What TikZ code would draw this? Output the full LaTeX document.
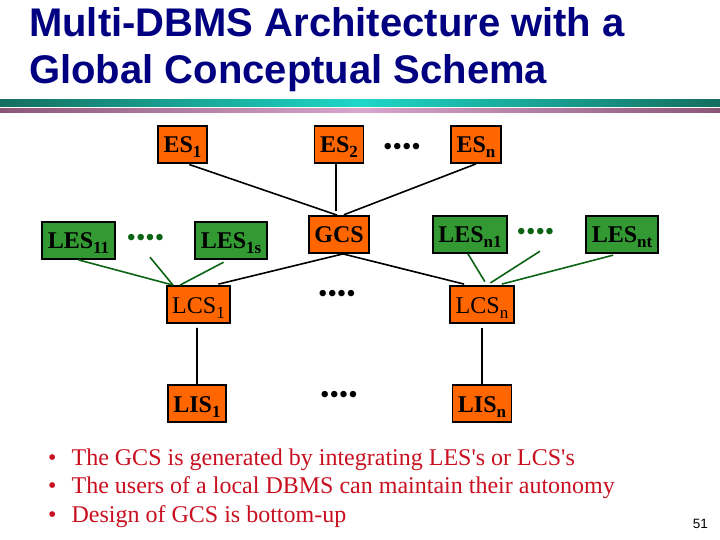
\documentclass[tikz,border=0pt]{standalone}
\usepackage{fontspec}
\setmainfont{Liberation Serif}
\newfontfamily\headfont{Liberation Sans}
\usetikzlibrary{calc}

\definecolor{schemaorange}{RGB}{255,102,0}
\definecolor{localgreen}{RGB}{51,153,51}
\definecolor{linkgreen}{RGB}{10,100,20}
\definecolor{titleblue}{RGB}{0,0,128}
\definecolor{notered}{RGB}{200,16,32}
\definecolor{tealdark}{RGB}{20,110,95}
\definecolor{teallight}{RGB}{30,215,200}
\definecolor{mauvedark}{RGB}{140,85,120}
\definecolor{mauvelight}{RGB}{215,165,205}

% lowered index of a schema name
\newcommand{\lowsub}[1]{\raisebox{-5bp}{\fontsize{17bp}{17bp}\selectfont #1}}

\begin{document}
\begin{tikzpicture}[x=1bp,y=-1bp,
	schema/.style={draw,line width=1.8bp,fill=schemaorange,minimum height=37bp,inner xsep=5.5bp,text height=20bp,text depth=3bp,font=\fontsize{24bp}{24bp}\selectfont\bfseries},
	local/.style={schema,fill=localgreen},
	concept/.style={schema,font=\fontsize{24bp}{24bp}\selectfont},
	more/.style={inner sep=0pt,font=\fontsize{27bp}{27bp}\selectfont},
	link/.style={line width=1.6bp},
	greenlink/.style={link,draw=linkgreen},
	heading/.style={anchor=base west,inner sep=0pt,text=titleblue,font=\headfont\bfseries\fontsize{40bp}{40bp}\selectfont},
	note/.style={anchor=base west,inner sep=0pt,text=notered,font=\fontsize{24bp}{29bp}\selectfont}]
	\useasboundingbox[fill=white] (0,0) rectangle (720,540);

	% title and bars
	\node (title1) [heading] at (29,37) {Multi-DBMS Architecture with a};
	\node (title2) [heading] at (29,84) {Global Conceptual Schema};
	\shade[left color=tealdark,right color=tealdark,middle color=teallight] (0,100) rectangle (720,107);
	\shade[left color=mauvedark,right color=mauvedark,middle color=mauvelight] (0,109) rectangle (720,113);

	% external schemas
	\node (es1)[schema] at (182.5,144.5) {ES\lowsub{1}};
	\node (es2)[schema] at (339,144.5) {ES\lowsub{2}};
	\node (esdots)[more] at (402,149) {••••};
	\node (esn)[schema] at (476,144.5) {ES\lowsub{n}};

	% global schema and local external schemas
	\node (gcs)[schema] at (339,234.5) {GCS};
	\node (les11)[local] at (78.5,240.5) {LES\lowsub{11}};
	\node (lesdotsa)[more,text=linkgreen,minimum height=34bp] at (145.5,240) {••••};
	\node (les1s)[local] at (231,240.5) {LES\lowsub{1s}};
	\node (lesn1)[local] at (470,234.5) {LES\lowsub{n1}};
	\node (lesdotsb)[more,text=linkgreen,minimum height=34bp] at (535.5,234) {••••};
	\node (lesnt)[local] at (622,234.5) {LES\lowsub{nt}};

	% local conceptual and internal schemas
	\node (lcs1)[concept] at (198.5,304.5) {LCS\lowsub{1}};
	\node (lcsdots)[more] at (337,296) {••••};
	\node (lcsn)[concept] at (482,304.5) {LCS\lowsub{n}};
	\node (lis1)[schema] at (197,403.5) {LIS\lowsub{1}};
	\node (lisdots)[more] at (339,397) {••••};
	\node (lisn)[schema] at (482,403.5) {LIS\lowsub{n}};

	\draw[link,shorten <=2bp] ([xshift=5bp]es1.south) -- ([xshift=-2bp]gcs.north);
	\draw[link,shorten >=4bp] ([xshift=-3bp]es2.south) -- ([xshift=-3bp]gcs.north);
	\draw[link,shorten >=1bp] (esn.south) -- ([xshift=4bp]gcs.north);
	\draw[link,shorten >=4bp] ([xshift=4bp]gcs.south) -- ([xshift=16bp]lcs1.north);
	\draw[link,shorten >=4bp] ([xshift=4bp]gcs.south) -- ([xshift=-14bp]lcsn.north);

	\draw[greenlink] (les11.south) -- ([xshift=-25.5bp]lcs1.north);
	\draw[greenlink] ([xshift=4.5bp]lesdotsa.south) -- ([xshift=-25.5bp]lcs1.north);
	\draw[greenlink,shorten <=5bp] ([xshift=-3bp]les1s.south) -- ([xshift=-18.5bp]lcs1.north);
	\draw[greenlink,shorten >=4bp] ([xshift=-2bp]lesn1.south) -- ([xshift=5bp]lcsn.north);
	\draw[greenlink,shorten >=4bp] ([xshift=4.5bp]lesdotsb.south) -- ([xshift=5bp]lcsn.north);
	\draw[greenlink,shorten <=5bp,shorten >=4bp] ([xshift=-4bp]lesnt.south) -- ([xshift=16bp]lcsn.north);

	\draw[link,shorten <=4bp] ([xshift=-1.5bp]lcs1.south) -- (lis1.north);
	\draw[link,shorten <=4bp] (lcsn.south) -- (lisn.north);

	% remarks
	\node (note1)[note] at (48,465) {\textbullet\hspace{15bp}The GCS is generated by integrating LES\textquotesingle s or LCS\textquotesingle s};
	\node (note2)[note] at (48,493.5) {\textbullet\hspace{15bp}The users of a local DBMS can maintain their autonomy};
	\node (note3)[note] at (48,522) {\textbullet\hspace{15bp}Design of GCS is bottom-up};
	\node (page)[anchor=base east,inner sep=0pt,font=\headfont\fontsize{13.5bp}{13.5bp}\selectfont] at (708,528) {51};
\end{tikzpicture}
\end{document}
